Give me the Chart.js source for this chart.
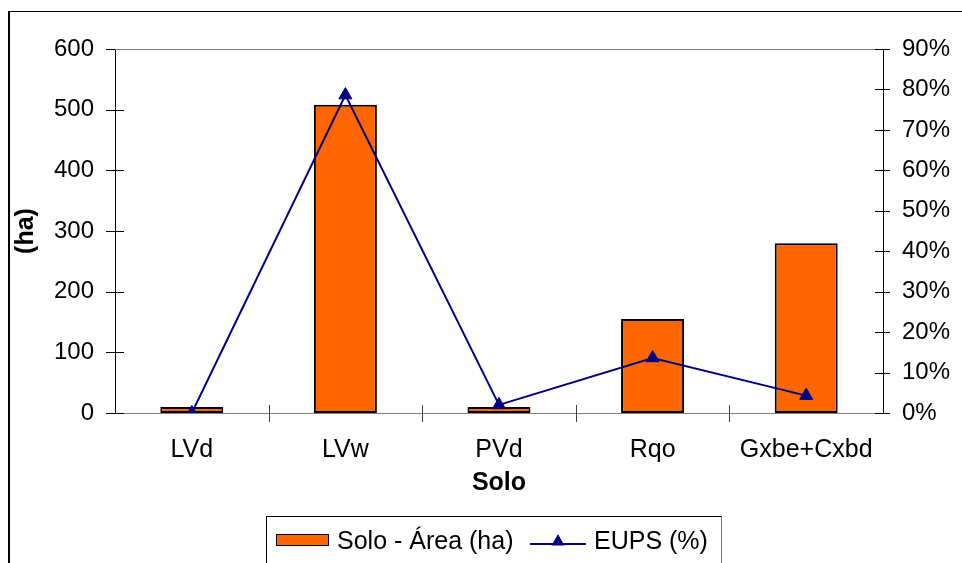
<!DOCTYPE html>
<html>
<head>
<meta charset="utf-8">
<script src="https://cdn.jsdelivr.net/npm/chart.js@4/dist/chart.umd.min.js"></script>
<style>
  html, body { margin: 0; padding: 0; background: #fff; }
  #wrap { position: relative; width: 962px; height: 563px; overflow: hidden; }
  #frame { position: absolute; left: 8px; top: 11px; width: 2000px; height: 2000px;
           border-top: 1px solid #000; border-left: 2px solid #000; }
  #chart { position: absolute; left: 0; top: 0; }
  #legend { position: absolute; left: 266px; top: 516px; width: 456px; height: 60px;
            border: 1px solid #000; border-right-color: #777; box-sizing: border-box;
            font: 25px "Liberation Sans", Arial, sans-serif; color: #000; }
  #legend .item { position: absolute; top: 8px; line-height: 30px; white-space: nowrap; }
  #legend svg { vertical-align: middle; margin-right: 8px; position: relative; top: -2px; }
</style>
</head>
<body>
<div id="wrap">
  <div id="frame"></div>
  <canvas id="chart" width="962" height="563"></canvas>
  <div id="legend"></div>
</div>
<script>
const solos = ['LVd', 'LVw', 'PVd', 'Rqo', 'Gxbe+Cxbd'];
const areaHa = [10, 508, 10, 155, 280];
const eups = [0.0, 0.786, 0.02, 0.136, 0.043];
const haTicks = [0, 100, 200, 300, 400, 500, 600];
const pctTicks = [0, 0.1, 0.2, 0.3, 0.4, 0.5, 0.6, 0.7, 0.8, 0.9];

const ORANGE = '#FF6600';
const NAVY = '#000080';
const FAMILY = '"Liberation Sans", Arial, sans-serif';
const TICK_FONT = { family: FAMILY, size: 24 };
const LABEL_FONT = { family: FAMILY, size: 25 };

// tick marks that cross the axis lines, plus the grey top edge of the plot
const crossTicks = {
  id: 'crossTicks',
  afterDraw(chart) {
    const ctx = chart.ctx;
    const { top, bottom, left, right } = chart.chartArea;
    ctx.save();
    ctx.lineWidth = 1;
    ctx.strokeStyle = '#808080';
    ctx.beginPath();
    ctx.moveTo(left, top + 0.5);
    ctx.lineTo(right, top + 0.5);
    ctx.stroke();

    ctx.strokeStyle = '#000';
    const y = chart.scales.y, y1 = chart.scales.y1;
    haTicks.forEach(v => {
      const py = Math.round(y.getPixelForValue(v)) + 0.5;
      ctx.beginPath();
      ctx.moveTo(left - 9, py);
      ctx.lineTo(v === 600 ? left : left + 9, py);
      ctx.stroke();
    });
    pctTicks.forEach(v => {
      const py = Math.round(y1.getPixelForValue(v)) + 0.5;
      ctx.beginPath();
      ctx.moveTo(right - 8, py);
      ctx.lineTo(right + 7, py);
      ctx.stroke();
    });
    ctx.strokeStyle = '#404040';
    const step = (right - left) / solos.length;
    for (let i = 1; i < solos.length; i++) {
      const px = Math.round(left + step * i) + 0.5;
      ctx.beginPath();
      ctx.moveTo(px, bottom - 8);
      ctx.lineTo(px, bottom + 9);
      ctx.stroke();
    }
    ctx.restore();
  }
};

const chart = new Chart(document.getElementById('chart'), {
  type: 'bar',
  data: {
    labels: solos,
    datasets: [{
      type: 'line',
      label: 'EUPS (%)',
      data: eups,
      yAxisID: 'y1',
      borderColor: NAVY,
      backgroundColor: NAVY,
      borderWidth: 2,
      pointStyle: 'triangle',
      pointRadius: 7.5,
      pointBackgroundColor: NAVY,
      pointBorderColor: NAVY,
      pointBorderWidth: 1,
      tension: 0,
      order: 0
    }, {
      label: 'Solo - Área (ha)',
      data: areaHa,
      yAxisID: 'y',
      backgroundColor: ORANGE,
      borderColor: '#000',
      borderWidth: 2,
      borderSkipped: false,
      categoryPercentage: 1,
      barPercentage: 0.41,
      order: 1
    }]
  },
  options: {
    responsive: false,
    animation: false,
    events: [],
    layout: { padding: { top: 49, bottom: 50, left: 0, right: 0 } },
    plugins: {
      legend: { display: false },
      tooltip: { enabled: false }
    },
    scales: {
      x: {
        grid: { display: false, drawTicks: false },
        border: { color: '#808080', width: 1 },
        ticks: { color: '#000', font: LABEL_FONT, padding: 22, maxRotation: 0 },
        title: { display: true, text: 'Solo', color: '#000',
                 font: { ...LABEL_FONT, weight: 'bold' }, padding: { top: 0, bottom: 15 } },
        afterFit: s => { s.height = 100; }
      },
      y: {
        position: 'left',
        min: 0, max: 600,
        afterBuildTicks: s => { s.ticks = haTicks.map(v => ({ value: v })); },
        grid: { display: false, drawTicks: false },
        border: { color: '#000', width: 1 },
        ticks: { color: '#000', font: TICK_FONT, padding: 21 },
        title: { display: true, text: '(ha)', color: '#000',
                 font: { ...LABEL_FONT, weight: 'bold' }, padding: { top: 11, bottom: 0 } },
        afterFit: s => { s.width = 115; }
      },
      y1: {
        position: 'right',
        min: 0, max: 0.9,
        afterBuildTicks: s => { s.ticks = pctTicks.map(v => ({ value: v })); },
        grid: { display: false, drawTicks: false },
        border: { color: '#000', width: 1 },
        ticks: { color: '#000', font: TICK_FONT, padding: 19,
                 callback: v => Math.round(v * 100) + '%' },
        afterFit: s => { s.width = 79; }
      }
    }
  },
  plugins: [crossTicks]
});

// legend: orange box for the bars, navy line with a triangle for the series
const legend = document.getElementById('legend');
const barDs = chart.data.datasets[1], lineDs = chart.data.datasets[0];
legend.innerHTML =
  '<span class="item" style="left:9px">' +
    '<svg width="53" height="12"><rect x="0.5" y="0.5" width="52" height="11" fill="' + ORANGE +
    '" stroke="#000" stroke-width="1"/></svg>' + barDs.label + '</span>' +
  '<span class="item" style="left:263px">' +
    '<svg width="56" height="14"><line x1="0" y1="11" x2="56" y2="11" stroke="' + NAVY +
    '" stroke-width="2"/><polygon points="28,1 34.5,12.5 21.5,12.5" fill="' + NAVY + '"/></svg>' +
    lineDs.label + '</span>';
</script>
</body>
</html>
